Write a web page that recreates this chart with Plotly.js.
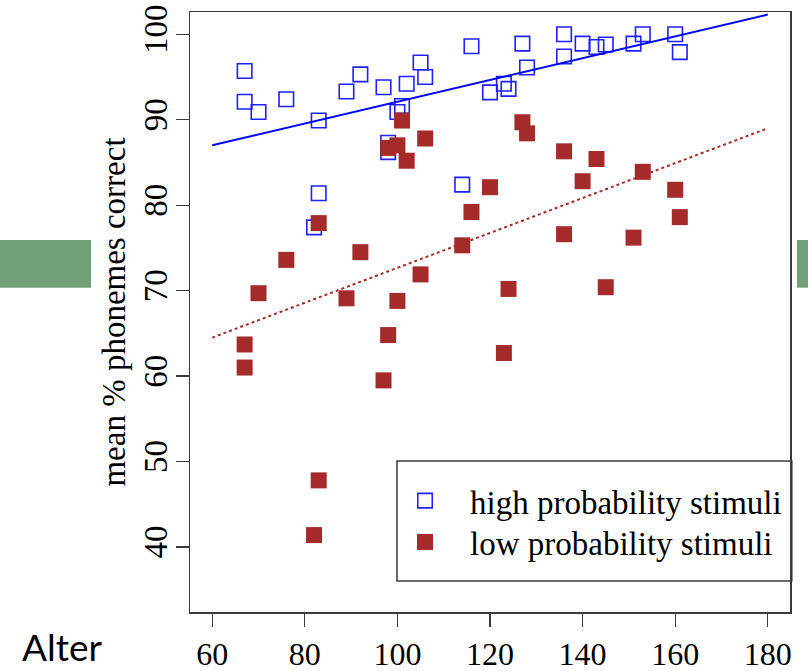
<!DOCTYPE html>
<html>
<head>
<meta charset="utf-8">
<script src="https://cdn.plot.ly/plotly-3.0.1.min.js"></script>
<style>html,body{margin:0;padding:0;background:#fff;}#chart{width:808px;height:671px;}</style>
</head>
<body>
<div id="chart"></div>
<script>
// ---- data ----
const highX = [67, 67, 70, 76, 83, 89, 92, 97, 102, 105, 106, 100, 101, 98, 98, 114, 116, 120, 83, 82, 123, 124, 127, 128, 136, 136, 140, 143, 145, 151, 153, 160, 161];
const highY = [95.7, 92.1, 90.9, 92.4, 89.9, 93.3, 95.3, 93.8, 94.2, 96.7, 95.0, 90.9, 91.6, 87.3, 86.2, 82.4, 98.6, 93.2, 81.4, 77.4, 94.2, 93.6, 98.9, 96.1, 100.0, 97.4, 98.9, 98.5, 98.8, 98.9, 100.0, 100.0, 97.9];
const lowX = [101, 98, 100, 102, 106, 120, 116, 83, 76, 92, 70, 89, 100, 105, 114, 67, 67, 98, 97, 123, 136, 151, 161, 124, 145, 127, 128, 136, 143, 140, 153, 160, 83, 82];
const lowY = [89.9, 86.7, 87.0, 85.2, 87.8, 82.1, 79.2, 77.9, 73.6, 74.5, 69.7, 69.1, 68.8, 71.9, 75.3, 63.7, 61.0, 64.8, 59.5, 62.7, 76.6, 76.2, 78.6, 70.2, 70.4, 89.7, 88.4, 86.3, 85.4, 82.8, 83.9, 81.8, 47.8, 41.4];
const fitX = [60, 180];
const highFit = [87.0, 102.3];
const lowFit = [64.5, 89.0];
const xTicks = [60, 80, 100, 120, 140, 160, 180];
const yTicks = [40, 50, 60, 70, 80, 90, 100];
const seriesNames = ["high probability stimuli", "low probability stimuli"];
const yTitle = "mean % phonemes correct";
const sideLabel = "Alter";

const serif = "Liberation Serif, Times New Roman, serif";
const frame = "#3a3a3a";

const traces = [
  {x: highX, y: highY, type: "scatter", mode: "markers", name: seriesNames[0], legend: "legend",
   marker: {symbol: "square-open", size: 14.5, color: "#1f1fff", line: {width: 1.6, color: "#1f1fff"}},
   cliponaxis: false},
  {x: lowX, y: lowY, type: "scatter", mode: "markers", name: seriesNames[1], legend: "legend2",
   marker: {symbol: "square", size: 16, color: "#a52a2a", line: {width: 0}},
   cliponaxis: false},
  {x: fitX, y: highFit, type: "scatter", mode: "lines", showlegend: false,
   line: {color: "#0000ff", width: 2}},
  {x: fitX, y: lowFit, type: "scatter", mode: "lines", showlegend: false,
   line: {color: "#a52a2a", width: 2, dash: "dot"}}
];

const legendBase = {
  xanchor: "left", yanchor: "middle",
  bgcolor: "rgba(0,0,0,0)", borderwidth: 0,
  font: {family: serif, size: 33, color: "#000"},
  itemwidth: 80
};

const layout = {
  width: 808, height: 671,
  margin: {l: 190, r: 18, t: 12, b: 59, pad: 0},
  paper_bgcolor: "#ffffff", plot_bgcolor: "#ffffff",
  showlegend: true,
  font: {family: serif, size: 33, color: "#000"},
  xaxis: {
    range: [55.2, 184.8], tickvals: xTicks, ticktext: xTicks.map(String),
    showgrid: false, zeroline: false,
    showline: true, mirror: true, linecolor: frame, linewidth: 1.5,
    ticks: "outside", ticklen: 13, tickwidth: 1.3, tickcolor: frame,
    tickfont: {family: serif, size: 32, color: "#000"},
    ticklabelstandoff: 0
  },
  yaxis: {
    range: [32.4, 102.6], tickvals: yTicks, ticktext: yTicks.map(String),
    showgrid: false, zeroline: false,
    showline: true, mirror: true, linecolor: frame, linewidth: 1.5,
    ticks: "outside", ticklen: 13, tickwidth: 1.3, tickcolor: frame,
    tickangle: -90,
    tickfont: {family: serif, size: 33, color: "#000"},
    ticklabelstandoff: -5,
    title: {text: yTitle, font: {family: serif, size: 33, color: "#000"}, standoff: 2}
  },
  legend: Object.assign({}, legendBase, {x: 0.3167, y: 0.1855}),
  legend2: Object.assign({}, legendBase, {x: 0.3167, y: 0.1167}),
  shapes: [
    {type: "rect", xref: "paper", yref: "paper", x0: 0.345, x1: 1.003, y0: 0.0517, y1: 0.2517,
     line: {color: frame, width: 1.5}, fillcolor: "rgba(0,0,0,0)"},
    {type: "rect", xref: "paper", yref: "paper", x0: -0.3167, x1: -0.165, y0: 0.5405, y1: 0.62,
     line: {width: 0}, fillcolor: "#72a178"},
    {type: "rect", xref: "paper", yref: "paper", x0: 1.0117, x1: 1.03, y0: 0.5405, y1: 0.62,
     line: {width: 0}, fillcolor: "#72a178"}
  ],
  annotations: [
    {text: sideLabel, xref: "paper", yref: "paper", x: -0.281, y: -0.096, xanchor: "left", yanchor: "bottom",
     showarrow: false, borderpad: 0, font: {family: "Lato, Open Sans, sans-serif", size: 37, color: "#000"}}
  ]
};

Plotly.newPlot("chart", traces, layout, {displayModeBar: false, staticPlot: true});
</script>
</body>
</html>
